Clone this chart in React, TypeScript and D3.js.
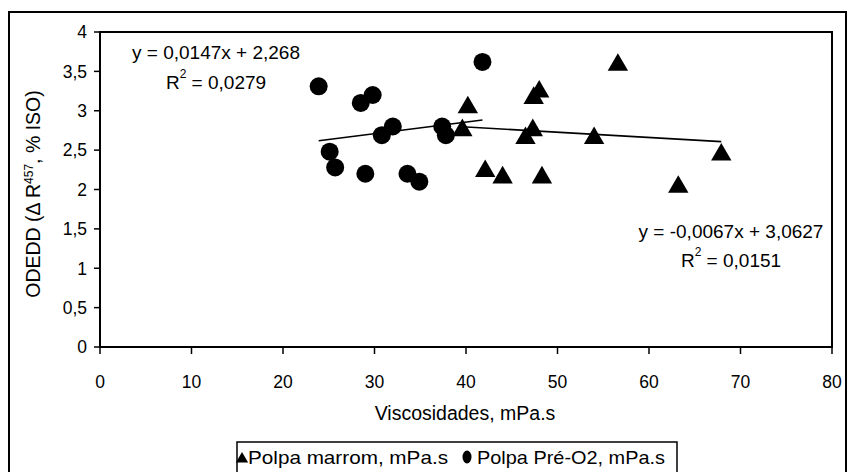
import React from "react";
import * as d3 from "d3";

const W = 854;
const H = 472;

// Polpa marrom (triangles)
const marromX = [40.2, 39.6, 42.1, 56.6, 48.0, 47.4, 47.3, 46.5, 54.0, 44.0, 48.3, 63.2, 67.9];
const marromY = [3.08, 2.79, 2.27, 3.62, 3.28, 3.2, 2.79, 2.69, 2.69, 2.19, 2.19, 2.07, 2.48];
// Polpa Pré-O2 (circles)
const preX = [23.9, 29.8, 28.5, 41.8, 32.0, 30.8, 37.4, 37.8, 25.1, 25.7, 29.0, 33.6, 34.9];
const preY = [3.31, 3.2, 3.1, 3.62, 2.8, 2.69, 2.8, 2.69, 2.48, 2.28, 2.2, 2.2, 2.1];

const xTicks = [0, 10, 20, 30, 40, 50, 60, 70, 80];
const yTicks = [0, 0.5, 1, 1.5, 2, 2.5, 3, 3.5, 4];

// trend lines (from the equations shown)
const trendPre = { slope: 0.0147, intercept: 2.268 };
const trendMarrom = { slope: -0.0067, intercept: 3.0627 };

const eqPre = ["y = 0,0147x + 2,268", "= 0,0279"];
const eqMarrom = ["y = -0,0067x + 3,0627", "= 0,0151"];

const xLabel = "Viscosidades, mPa.s";
const legendLabels = ["Polpa marrom, mPa.s", "Polpa Pré-O2, mPa.s"];

const FONT = "'Liberation Sans', Arial, sans-serif";
const fmt = (v: number) => String(v).replace(".", ",");

export default function App() {
  const left = 100, right = 832, top = 32, bottom = 347;
  const x = d3.scaleLinear().domain([0, 80]).range([left, right]);
  const y = d3.scaleLinear().domain([0, 4]).range([bottom, top]);

  const line = d3.line<[number, number]>().x(d => x(d[0])).y(d => y(d[1]));
  const trendPts = (xs: number[], t: { slope: number; intercept: number }) => {
    const [mn, mx] = d3.extent(xs) as [number, number];
    return [mn, mx].map(v => [v, t.slope * v + t.intercept] as [number, number]);
  };

  const tri = d3.symbol().type(d3.symbolTriangle).size(180);
  const triSmall = d3.symbol().type(d3.symbolTriangle).size(65);

  return (
    <svg width={W} height={H} style={{ position: "absolute", left: 0, top: 0, background: "#fff" }} fontFamily={FONT}>
      <rect x={0} y={0} width={W} height={H} fill="#fff" />
      {/* outer chart border */}
      <rect x={9} y={12} width={837} height={470} fill="none" stroke="#000" strokeWidth={2} />
      {/* plot area */}
      <rect x={left} y={top} width={right - left} height={bottom - top} fill="#fff" stroke="#000" strokeWidth={2} />

      {/* y ticks */}
      {yTicks.map(t => (
        <g key={"y" + t}>
          <line x1={left - 6} x2={left} y1={y(t)} y2={y(t)} stroke="#000" strokeWidth={1.5} />
          <text x={left - 13} y={y(t)} dy="0.36em" textAnchor="end" fontSize={17.5}>{fmt(t)}</text>
        </g>
      ))}
      {/* x ticks */}
      {xTicks.map(t => (
        <g key={"x" + t}>
          <line x1={x(t)} x2={x(t)} y1={bottom} y2={bottom + 7} stroke="#000" strokeWidth={1.5} />
          <text x={x(t)} y={bottom + 41} textAnchor="middle" fontSize={17.5}>{t}</text>
        </g>
      ))}

      {/* axis titles */}
      <text x={465} y={420} textAnchor="middle" fontSize={19.5}>{xLabel}</text>
      <text transform={`translate(40,194) rotate(-90)`} textAnchor="middle" fontSize={19.5}>
        ODEDD (Δ R<tspan fontSize={12} dy={-7}>457</tspan><tspan dy={7}>, % ISO)</tspan>
      </text>

      {/* markers */}
      {preX.map((v, i) => (
        <circle key={"c" + i} cx={x(v)} cy={y(preY[i])} r={9} fill="#000" />
      ))}
      {marromX.map((v, i) => (
        <path key={"t" + i} d={tri()!} transform={`translate(${x(v)},${y(marromY[i]) + 3})`} fill="#000" />
      ))}

      {/* trend lines */}
      <path d={line(trendPts(preX, trendPre))!} stroke="#000" strokeWidth={1.6} fill="none" />
      <path d={line(trendPts(marromX, trendMarrom))!} stroke="#000" strokeWidth={1.6} fill="none" />

      {/* equations */}
      <text x={216} y={59} textAnchor="middle" fontSize={19}>{eqPre[0]}</text>
      <text x={216} y={89} textAnchor="middle" fontSize={19}>
        R<tspan fontSize={12} dy={-11}>2</tspan><tspan dy={11}> {eqPre[1]}</tspan>
      </text>
      <text x={731} y={238} textAnchor="middle" fontSize={19}>{eqMarrom[0]}</text>
      <text x={731} y={267} textAnchor="middle" fontSize={19}>
        R<tspan fontSize={12} dy={-11}>2</tspan><tspan dy={11}> {eqMarrom[1]}</tspan>
      </text>

      {/* legend */}
      <rect x={237} y={442} width={440} height={40} fill="#fff" stroke="#000" strokeWidth={1.5} />
      <path d={triSmall()!} transform="translate(242,459)" fill="#000" />
      <text x={248} y={464} fontSize={19} textLength={200} lengthAdjust="spacingAndGlyphs">{legendLabels[0]}</text>
      <ellipse cx={467} cy={457} rx={4.5} ry={6.5} fill="#000" />
      <text x={477} y={464} fontSize={19} textLength={188} lengthAdjust="spacingAndGlyphs">{legendLabels[1]}</text>
    </svg>
  );
}
